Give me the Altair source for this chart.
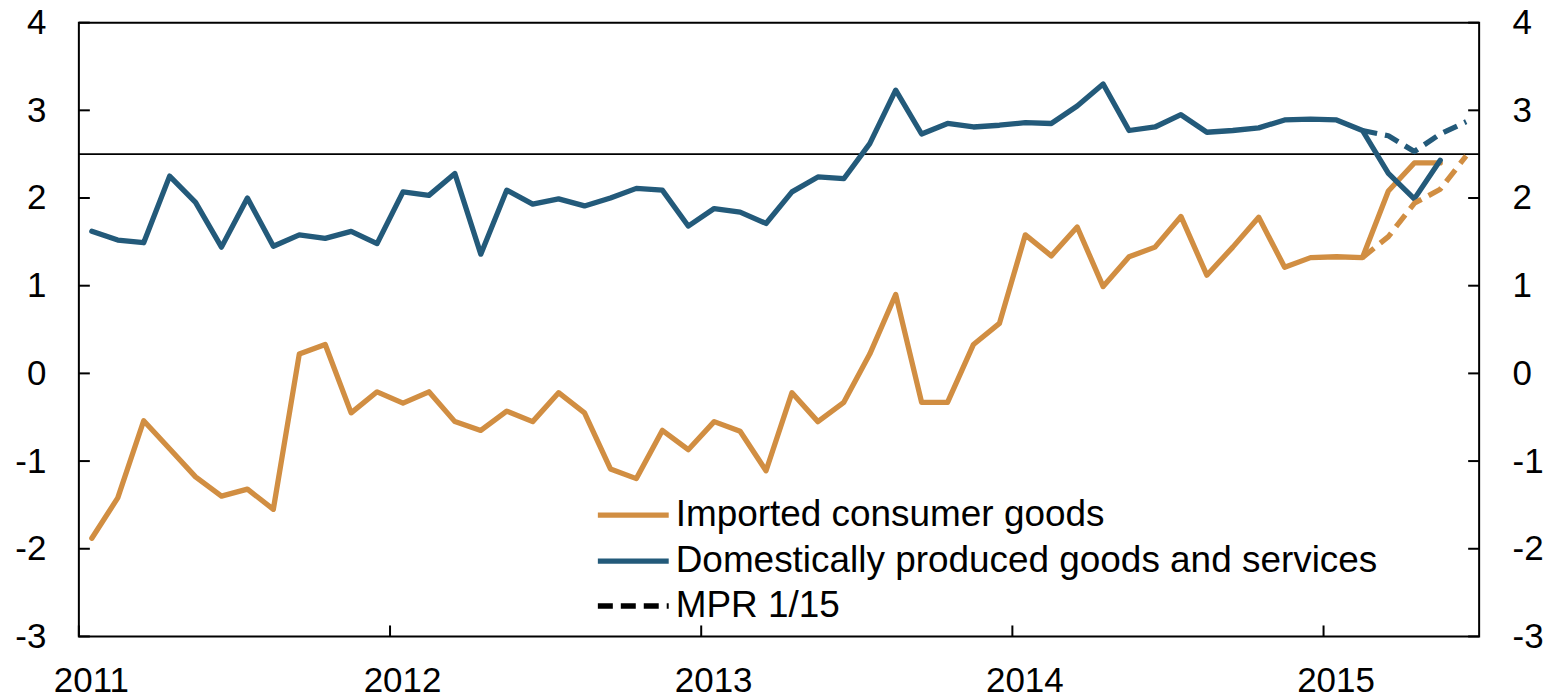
import altair as alt
import pandas as pd

# ---- data (monthly, Jan 2011 - May 2015) ----
months = [f"{y}-{m:02d}" for y in range(2011, 2016) for m in range(1, 13)][:53]

imported = [-1.88, -1.42, -0.54, -0.86, -1.18, -1.40, -1.32, -1.55, 0.22, 0.33, -0.45, -0.21,
            -0.34, -0.21, -0.55, -0.65, -0.43, -0.55, -0.22, -0.45, -1.09, -1.20, -0.65, -0.87,
            -0.55, -0.66, -1.11, -0.22, -0.55, -0.33, 0.22, 0.90, -0.33, -0.33, 0.33, 0.57,
            1.58, 1.34, 1.67, 0.99, 1.33, 1.44, 1.79, 1.12, 1.44, 1.78, 1.21, 1.32,
            1.33, 1.32, 2.08, 2.40, 2.40]

domestic = [1.62, 1.52, 1.49, 2.25, 1.95, 1.44, 2.00, 1.45, 1.58, 1.54, 1.62, 1.48,
            2.07, 2.03, 2.28, 1.36, 2.09, 1.93, 1.99, 1.91, 2.00, 2.11, 2.09, 1.68,
            1.88, 1.84, 1.71, 2.07, 2.24, 2.22, 2.62, 3.23, 2.73, 2.85, 2.81, 2.83,
            2.86, 2.85, 3.05, 3.30, 2.77, 2.81, 2.95, 2.75, 2.77, 2.80, 2.89, 2.90,
            2.89, 2.77, 2.28, 1.99, 2.43]

mpr_months = ["2015-02", "2015-03", "2015-04", "2015-05", "2015-06"]
mpr_imported = [1.32, 1.56, 1.94, 2.10, 2.48]
mpr_domestic = [2.77, 2.71, 2.53, 2.73, 2.87]

imp_name = "Imported consumer goods"
dom_name = "Domestically produced goods and services"
imp_color = "#D18E42"
dom_color = "#235A7A"
mpr_label = "MPR 1/15"
target_level = [2.5]
y_tick_values = [-3, -2, -1, 0, 1, 2, 3, 4]
x_tick_values = [2011, 2012, 2013, 2014, 2015]

FONT = "Liberation Sans"
W, H = 1403, 615
LW = 5.3
DASH = [15, 8]


def to_num(s):
    y, m = s.split("-")
    return int(y) + (int(m) - 0.5) / 12


def frame(name, mos, vals, kind=None):
    rows = [{"t": to_num(mo), "value": v, "series": name} for mo, v in zip(mos, vals)]
    if kind:
        for r in rows:
            r["kind"] = kind
    return pd.DataFrame(rows)


imp_df = frame(imp_name, months, imported)
dom_df = frame(dom_name, months, domestic)
imp_mpr_df = frame(imp_name, mpr_months, mpr_imported, mpr_label)
dom_mpr_df = frame(dom_name, mpr_months, mpr_domestic, mpr_label)

xscale = alt.Scale(domain=[2011, 2015.5], nice=False, zero=False)
yscale = alt.Scale(domain=[-3, 4], nice=False, zero=False)
imp_scale = alt.Scale(domain=[imp_name], range=[imp_color])
dom_scale = alt.Scale(domain=[dom_name], range=[dom_color])
dash_scale = alt.Scale(domain=[mpr_label], range=[DASH])


def legend(y, **kw):
    return alt.Legend(
        title=None, orient="none", legendX=517, legendY=y,
        symbolType="stroke", symbolSize=5041, symbolStrokeWidth=LW,
        labelFont=FONT, labelFontSize=37, labelColor="black", labelOffset=4,
        padding=0, labelLimit=0, **kw,
    )


num_label = "datum.value < 0 ? '-' + abs(datum.value) : '' + datum.value"
common_axis = dict(tickSize=0, domain=False, grid=False, labelFont=FONT, labelFontSize=35,
                   labelColor="black", labelFlush=False, title=None)
y_left_axis = alt.Axis(orient="left", values=y_tick_values, labelPadding=33,
                       labelExpr=num_label, **common_axis)
y_right_axis = alt.Axis(orient="right", values=y_tick_values, labelPadding=33,
                        labelExpr=num_label, **common_axis)
x_axis = alt.Axis(orient="bottom", values=x_tick_values, format="d", labelPadding=27,
                  labelOffset=12, **common_axis)

X = alt.X("t:Q", scale=xscale, axis=None)
Y = alt.Y("value:Q", scale=yscale, axis=None)

target_rule = alt.Chart(pd.DataFrame({"v": target_level})).mark_rule(
    color="black", strokeWidth=1.8
).encode(y=alt.Y("v:Q", scale=yscale, axis=None))

imp_line = alt.Chart(imp_df).mark_line(strokeWidth=LW, strokeJoin="round", strokeCap="round").encode(
    x=X, y=Y, stroke=alt.Stroke("series:N", scale=imp_scale, legend=legend(455)))
dom_line = alt.Chart(dom_df).mark_line(strokeWidth=LW, strokeJoin="round", strokeCap="round").encode(
    x=X, y=Y, color=alt.Color("series:N", scale=dom_scale, legend=legend(501)))

dash_legend = legend(546, symbolStrokeColor="black")
imp_mpr = alt.Chart(imp_mpr_df).mark_line(strokeWidth=LW, strokeJoin="round").encode(
    x=X, y=Y, stroke=alt.Stroke("series:N", scale=imp_scale, legend=None),
    strokeDash=alt.StrokeDash("kind:N", scale=dash_scale, legend=dash_legend))
dom_mpr = alt.Chart(dom_mpr_df).mark_line(strokeWidth=LW, strokeJoin="round").encode(
    x=X, y=Y, color=alt.Color("series:N", scale=dom_scale, legend=None),
    strokeDash=alt.StrokeDash("kind:N", scale=dash_scale, legend=None))

ydf = pd.DataFrame({"v": y_tick_values})
left_ticks = alt.Chart(ydf).mark_rule(color="black", strokeWidth=2).encode(
    y=alt.Y("v:Q", scale=yscale, axis=y_left_axis), x=alt.value(0), x2=alt.value(11))
right_ticks = alt.Chart(ydf).mark_rule(color="black", strokeWidth=2).encode(
    y=alt.Y("v:Q", scale=yscale, axis=y_right_axis), x=alt.value(W - 11), x2=alt.value(W))
bottom_ticks = alt.Chart(pd.DataFrame({"v": x_tick_values})).mark_rule(color="black", strokeWidth=2).encode(
    x=alt.X("v:Q", scale=xscale, axis=x_axis), y=alt.value(H - 11), y2=alt.value(H))

chart = alt.layer(
    target_rule, imp_line, dom_line, imp_mpr, dom_mpr, left_ticks, right_ticks, bottom_ticks
).resolve_axis(y="independent", x="independent").properties(
    width=W, height=H, autosize="none",
    padding={"left": 71, "top": 14, "right": 70, "bottom": 62},
).configure(background="white").configure_view(stroke="black", strokeWidth=2)

chart.save("out.html", embed_options={"renderer": "svg", "actions": False})
